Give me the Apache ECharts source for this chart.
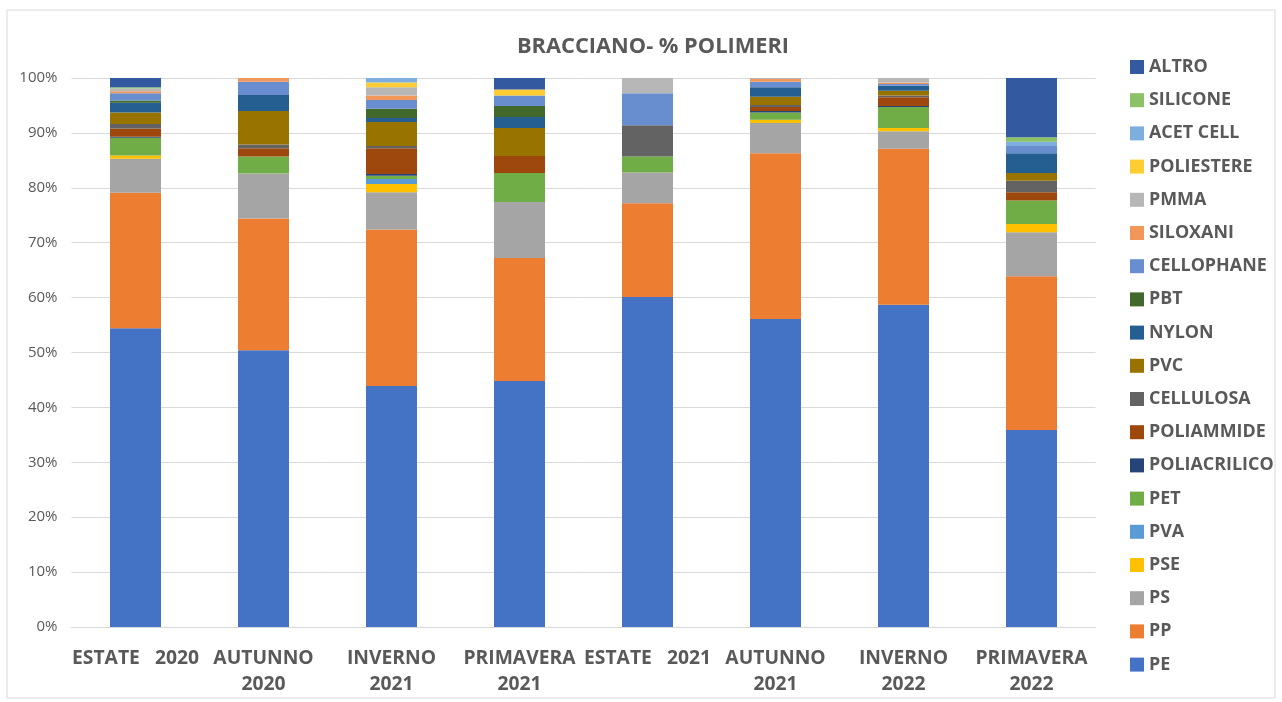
<!DOCTYPE html>
<html>
<head>
<meta charset="utf-8">
<script src="https://cdn.jsdelivr.net/npm/echarts@6/dist/echarts.min.js"></script>
<style>
  html, body { margin: 0; padding: 0; background: #fff; }
  #chart { width: 1282px; height: 702px; }
</style>
</head>
<body>
<div id="chart"></div>
<script>
// Seasons sampled
const categories = ['ESTATE   2020', 'AUTUNNO\n2020', 'INVERNO\n2021', 'PRIMAVERA\n2021',
                    'ESTATE   2021', 'AUTUNNO\n2021', 'INVERNO\n2022', 'PRIMAVERA\n2022'];

// Percentage of each polymer per season (stack order: bottom to top)
const PE           = [54.4, 50.4, 43.9, 44.8, 60.1, 56.1, 58.7, 35.9];
const PP           = [24.7, 24.0, 28.5, 22.4, 17.1, 30.2, 28.4, 28.0];
const PS           = [6.2, 8.2, 6.8, 10.2, 5.6, 5.5, 3.2, 8.0];
const PSE          = [0.6, 0, 1.5, 0, 0, 0.6, 0.6, 1.5];
const PVA          = [0, 0, 0.9, 0, 0, 0, 0, 0];
const PET          = [3.2, 3.1, 0.6, 5.3, 2.9, 1.3, 3.8, 4.3];
const POLIACRILICO = [0.2, 0, 0.3, 0, 0, 0.3, 0.2, 0];
const POLIAMMIDE   = [1.5, 1.5, 4.7, 3.1, 0, 0.7, 1.6, 1.5];
const CELLULOSA    = [0.8, 0.7, 0.4, 0, 5.7, 0.4, 0.3, 2.1];
const PVC          = [2.1, 6.1, 4.4, 5.1, 0, 1.5, 0.9, 1.4];
const NYLON        = [1.8, 2.9, 0.7, 2.0, 0, 1.7, 0.9, 3.6];
const PBT          = [0.4, 0, 1.7, 2.0, 0, 0, 0, 0];
const CELLOPHANE   = [1.3, 2.4, 1.6, 1.9, 5.8, 1.0, 0.3, 1.3];
const SILOXANI     = [0.4, 0.7, 0.8, 0, 0, 0.5, 0.3, 0];
const PMMA         = [0.5, 0, 1.5, 0, 2.8, 0.2, 0.8, 0];
const POLIESTERE   = [0, 0, 0.9, 1.1, 0, 0, 0, 0];
const ACET_CELL    = [0, 0, 0.8, 0, 0, 0, 0, 0.8];
const SILICONE     = [0.2, 0, 0, 0, 0, 0, 0, 0.8];
const ALTRO        = [1.7, 0, 0, 2.1, 0, 0, 0, 10.8];

const yTicks = [0, 10, 20, 30, 40, 50, 60, 70, 80, 90, 100];

const seriesDefs = [
  ['PE', PE, '#4472C4'],
  ['PP', PP, '#ED7D31'],
  ['PS', PS, '#A5A5A5'],
  ['PSE', PSE, '#FFC000'],
  ['PVA', PVA, '#5B9BD5'],
  ['PET', PET, '#70AD47'],
  ['POLIACRILICO', POLIACRILICO, '#264478'],
  ['POLIAMMIDE', POLIAMMIDE, '#9E480E'],
  ['CELLULOSA', CELLULOSA, '#636363'],
  ['PVC', PVC, '#997300'],
  ['NYLON', NYLON, '#255E91'],
  ['PBT', PBT, '#43682B'],
  ['CELLOPHANE', CELLOPHANE, '#698ED0'],
  ['SILOXANI', SILOXANI, '#F1975A'],
  ['PMMA', PMMA, '#B7B7B7'],
  ['POLIESTERE', POLIESTERE, '#FFCD33'],
  ['ACET CELL', ACET_CELL, '#7CAFDD'],
  ['SILICONE', SILICONE, '#8CC168'],
  ['ALTRO', ALTRO, '#335AA1']
];

const FONT = '"Open Sans", Lato, sans-serif';
const TEXT = '#595959';

const chart = echarts.init(document.getElementById('chart'), null, { renderer: 'canvas' });

chart.setOption({
  animation: false,
  backgroundColor: '#fff',
  graphic: [{
    type: 'rect',
    shape: { x: 7, y: 10, width: 1268, height: 688 },
    style: { fill: 'none', stroke: '#D9D9D9', lineWidth: 1 },
    silent: true
  }],
  title: {
    text: 'BRACCIANO- % POLIMERI',
    left: 648, top: 29, textAlign: 'center',
    textStyle: { fontFamily: FONT, fontSize: 21.8, fontWeight: 'bold', color: TEXT, lineHeight: 26 }
  },
  legend: {
    orient: 'vertical',
    left: 1125, top: 53,
    itemWidth: 14, itemHeight: 14, itemGap: 15.2,
    icon: 'rect',
    data: seriesDefs.map(d => d[0]).reverse(),
    textStyle: { fontFamily: FONT, fontSize: 17.9, fontWeight: 'bold', color: TEXT }
  },
  grid: { left: 71.5, right: 186.5, top: 78, bottom: 75, containLabel: false },
  xAxis: {
    type: 'category',
    data: categories,
    axisLine: { lineStyle: { color: '#D9D9D9' } },
    axisTick: { show: false },
    axisLabel: {
      interval: 0, margin: 18.5, hideOverlap: false,
      fontFamily: FONT, fontSize: 19.3, fontWeight: 'bold', color: TEXT, lineHeight: 26
    }
  },
  yAxis: {
    type: 'value',
    min: yTicks[0], max: yTicks[yTicks.length - 1], interval: 10,
    axisLine: { show: false },
    axisTick: { show: false },
    splitLine: { lineStyle: { color: '#D9D9D9' } },
    axisLabel: {
      margin: 14, fontFamily: FONT, fontSize: 15, color: TEXT,
      formatter: v => v + '%'
    }
  },
  series: seriesDefs.map(([name, data, color]) => ({
    name, type: 'bar', stack: 'total', data,
    barWidth: 51,
    itemStyle: { color },
    emphasis: { disabled: true }
  }))
});
</script>
</body>
</html>
